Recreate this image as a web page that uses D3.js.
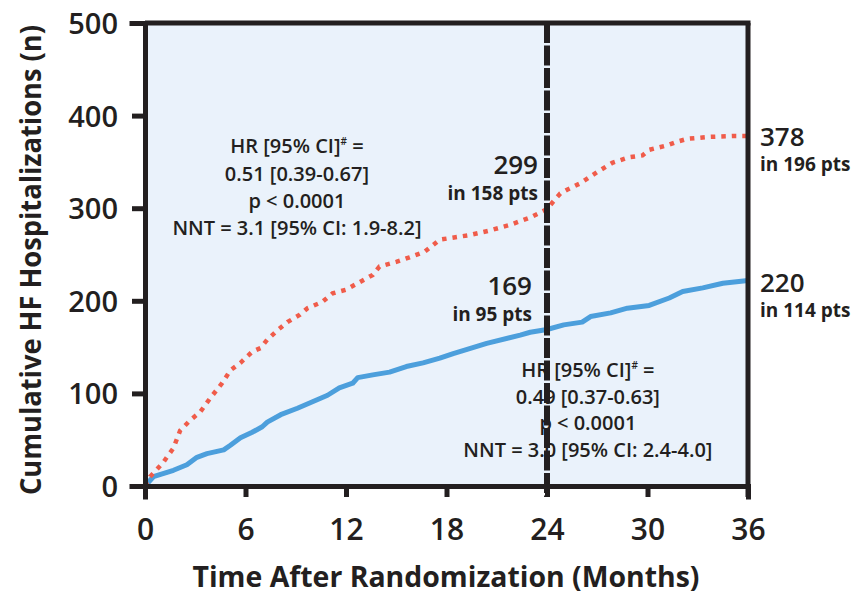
<!DOCTYPE html>
<html>
<head>
<meta charset="utf-8">
<script src="https://cdn.jsdelivr.net/npm/d3@7"></script>
<style>
  html, body { margin: 0; padding: 0; background: #fff; }
  svg text { font-family: "Open Sans", "Lato", sans-serif; fill: #231f20; }
</style>
</head>
<body>
<svg id="chart" width="862" height="594"></svg>
<script>
// ---- data ----
const xTicks = [0, 6, 12, 18, 24, 30, 36];
const yTicks = [0, 100, 200, 300, 400, 500];

const placeboMonths = [0,0.3,1.07,1.7,2.1,2.7,3.3,3.9,4.6,5.1,5.7,6.4,6.9,7.3,7.9,8.5,9.25,9.7,10.6,11.2,12.0,12.8,13.6,14.0,15.0,15.8,16.7,17.6,19.4,20.6,21.8,23.0,24.0,24.5,24.8,25.2,26.0,27.0,27.9,28.9,29.7,30.1,31.2,31.8,32.4,33.7,35.1,36];
const placeboEvents = [0,10,25,41,60,71,80,95,111,125,133,145,149,158,168,177,185,192,199,208,212,220,228,237,242,247,253,266,271,276,282,290,299,310,316,320,327,339,349,355,357,363,368,372,375,377,378,378];

const treatMonths = [0,0.5,1.7,2.5,3.1,3.7,4.7,5.1,5.7,6.4,7.0,7.3,8.1,9.1,10.0,10.9,11.6,12.4,12.7,13.6,14.6,15.6,16.6,17.6,18.4,20.4,22.4,23.0,24.0,25.0,26.1,26.6,27.8,28.8,30.1,31.3,32.1,33.3,34.5,36];
const treatEvents = [0,10,17,23,31,35,39,44,52,58,64,69,77,84,91,98,106,111,117,120,123,129,133,138,143,154,163,166,169,174,177,183,187,192,195,203,210,214,219,222];

const cutoffMonth = 24;
const midLabels = [
  { month: 24, value: 299, big: "299", small: "in 158 pts" },
  { month: 24, value: 169, big: "169", small: "in 95 pts" }
];
const endLabels = [
  { month: 36, value: 378, big: "378", small: "in 196 pts" },
  { month: 36, value: 220, big: "220", small: "in 114 pts" }
];
const statsUpper = ["HR [95% CI]", "0.51 [0.39-0.67]", "p < 0.0001", "NNT = 3.1 [95% CI: 1.9-8.2]"];
const statsLower = ["HR [95% CI]", "0.49 [0.37-0.63]", "p < 0.0001", "NNT = 3.0 [95% CI: 2.4-4.0]"];
const xTitle = "Time After Randomization (Months)";
const yTitle = "Cumulative HF Hospitalizations (n)";

// ---- layout ----
const L = 145, R = 748, T = 23, B = 486;
const svg = d3.select("#chart");
const x = d3.scaleLinear().domain([0, 36]).range([L, R]);
const y = d3.scaleLinear().domain([0, 500]).range([B, T]);

const RED = "#f05c4a", BLUE = "#4c9fdc", INK = "#231f20";

// plot background
svg.append("rect").attr("x", L).attr("y", T).attr("width", R - L).attr("height", B - T)
  .attr("fill", "#eaf2fb").attr("stroke", "#b9bcc0").attr("stroke-width", 1);

// stats text (behind vertical line)
function stats(lines, cx, baselines) {
  const g = svg.append("g").attr("font-size", 20).attr("font-weight", 600).attr("text-anchor", "middle");
  lines.forEach((s, i) => {
    const t = g.append("text").attr("x", cx).attr("y", baselines[i]);
    t.append("tspan").text(s);
    if (i === 0) {
      t.append("tspan").attr("font-size", 10).attr("dy", -8).text("#");
      t.append("tspan").attr("dy", 8).text(" =");
    }
  });
}
stats(statsUpper, x(9.07), [153, 180.5, 208, 235]);
stats(statsLower, x(26.44), [377, 403.5, 430, 457]);

// curves
const line = d3.line().x(d => x(d[0])).y(d => y(d[1]));
svg.append("path").datum(treatMonths.map((m, i) => [m, treatEvents[i]]))
  .attr("d", line).attr("fill", "none").attr("stroke", BLUE).attr("stroke-width", 5)
  .attr("stroke-linejoin", "round");
svg.append("path").datum(placeboMonths.map((m, i) => [m, placeboEvents[i]]))
  .attr("d", line).attr("fill", "none").attr("stroke", RED).attr("stroke-width", 4.5)
  .attr("stroke-dasharray", "4.5,6");

// top border
svg.append("line").attr("x1", L).attr("x2", R + 2.5).attr("y1", T).attr("y2", T)
  .attr("stroke", INK).attr("stroke-width", 5);

// vertical dashed line at 24 months
svg.append("line").attr("x1", x(cutoffMonth)).attr("x2", x(cutoffMonth)).attr("y1", T).attr("y2", B + 11)
  .attr("stroke", INK).attr("stroke-width", 6).attr("stroke-dasharray", "20,2.5");

// axes
const yAxis = d3.axisLeft(y).tickValues(yTicks).tickSize(13).tickPadding(14);
const xAxis = d3.axisBottom(x).tickValues(xTicks).tickSize(11).tickPadding(12);
const gy = svg.append("g").attr("transform", `translate(${L},0)`).call(yAxis);
const gx = svg.append("g").attr("transform", `translate(0,${B})`).call(xAxis);
[gy, gx].forEach(g => {
  g.select(".domain").attr("stroke", INK).attr("stroke-width", 5).attr("stroke-linecap", "square").attr("fill", "none");
  g.selectAll(".tick line").attr("stroke", INK).attr("stroke-width", 5);
  g.selectAll(".tick text").attr("fill", INK).attr("font-family", null).attr("font-weight", 600);
});
gy.selectAll(".tick text").attr("font-size", 29).attr("dy", "0.36em");
gx.selectAll(".tick text").attr("font-size", 30).attr("y", 54).attr("dy", 0);

// right border (with tick at 36)
svg.append("line").attr("x1", R).attr("x2", R).attr("y1", T).attr("y2", B + 11)
  .attr("stroke", INK).attr("stroke-width", 5);

// mid labels
midLabels.forEach((d, i) => {
  const px = x(d.month) - (i === 0 ? 9 : 15);
  svg.append("text").attr("x", px).attr("y", y(d.value) - 35).attr("text-anchor", "end")
    .attr("font-size", 26).attr("font-weight", 600).text(d.big);
  svg.append("text").attr("x", px).attr("y", y(d.value) - 9).attr("text-anchor", "end")
    .attr("font-size", 19).attr("font-weight", 700).text(d.small);
});
// end labels
endLabels.forEach(d => {
  const px = R + 12;
  svg.append("text").attr("x", px).attr("y", y(d.value) + 10).attr("text-anchor", "start")
    .attr("font-size", 26).attr("font-weight", 600).text(d.big);
  svg.append("text").attr("x", px).attr("y", y(d.value) + 35).attr("text-anchor", "start")
    .attr("font-size", 19).attr("font-weight", 700).text(d.small);
});

// axis titles
svg.append("text").attr("x", 446).attr("y", 587).attr("text-anchor", "middle")
  .attr("font-size", 28).attr("font-weight", 700)
  .attr("textLength", 507).attr("lengthAdjust", "spacingAndGlyphs").text(xTitle);
svg.append("text").attr("transform", `translate(41,260) rotate(-90)`).attr("text-anchor", "middle")
  .attr("font-size", 28).attr("font-weight", 700)
  .attr("textLength", 470).attr("lengthAdjust", "spacingAndGlyphs").text(yTitle);
</script>
</body>
</html>
